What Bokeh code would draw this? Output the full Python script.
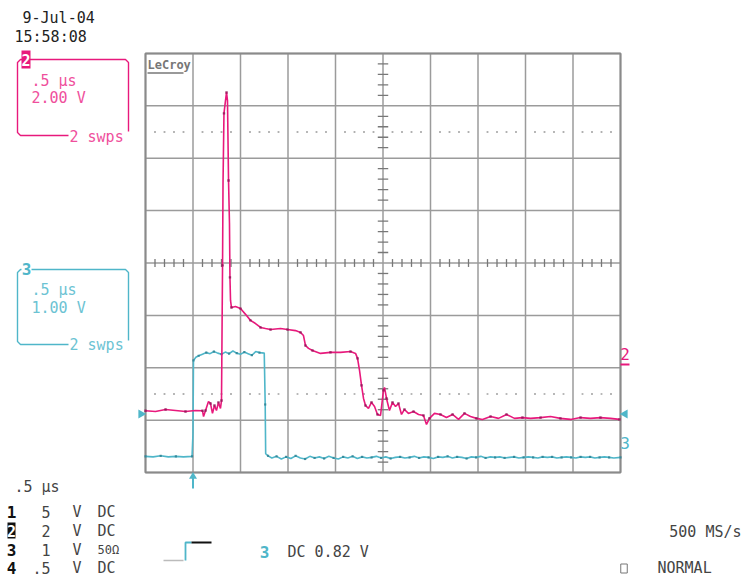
import math
from bokeh.plotting import figure
from bokeh.models import Range1d
from bokeh.embed import file_html
from bokeh.resources import INLINE
from bokeh.core.properties import value

# ---------------- data ----------------
TIME_PER_DIV_US = 0.5
CH2_V_PER_DIV = 2.0
CH2_OFFSET_DIV = -2.82
CH3_V_PER_DIV = 1.0
CH3_OFFSET_DIV = -3.70

ch2_t_us = [0.000, 0.105, 0.211, 0.316, 0.421, 0.526, 0.600, 0.611, 0.632, 0.663, 0.684,
            0.705, 0.726, 0.747, 0.768, 0.789, 0.800, 0.805, 0.811, 0.816, 0.826, 0.842,
            0.853, 0.863, 0.874, 0.884, 0.889, 0.895, 0.905, 0.947, 1.000, 1.053, 1.105,
            1.158, 1.211, 1.263, 1.316, 1.421, 1.495, 1.579, 1.632, 1.663, 1.684, 1.716,
            1.758, 1.842, 1.947, 2.053, 2.158, 2.211, 2.232, 2.253, 2.274, 2.295, 2.316,
            2.347, 2.379, 2.411, 2.442, 2.474, 2.505, 2.516, 2.537, 2.568, 2.600, 2.632,
            2.663, 2.695, 2.726, 2.768, 2.821, 2.874, 2.926, 2.958, 2.989, 3.042, 3.105,
            3.168, 3.232, 3.295, 3.358, 3.421, 3.484, 3.547, 3.632, 3.716, 3.800, 3.884,
            3.968, 4.053, 4.158, 4.263, 4.368, 4.474, 4.579, 4.684, 4.789, 4.895, 4.989]
ch2_v = [0.00, -0.03, 0.05, 0.01, -0.03, 0.01, 0.00, -0.22, 0.01, 0.35, 0.28,
         -0.10, 0.20, 0.01, 0.32, 0.09, 0.39, 2.69, 5.55, 8.68, 11.35, 11.84,
         12.15, 11.84, 8.79, 7.15, 5.09, 4.21, 3.94, 3.98, 3.90, 3.68, 3.45,
         3.33, 3.18, 3.14, 3.10, 3.14, 3.10, 3.06, 2.99, 2.87, 2.49, 2.38,
         2.30, 2.19, 2.23, 2.23, 2.26, 2.19, 2.00, 1.54, 0.97, 0.47, 0.20,
         0.09, 0.32, 0.16, -0.14, -0.18, 0.78, 0.89, 0.47, 0.01, 0.32, 0.16,
         0.28, -0.14, 0.05, -0.10, -0.03, -0.14, -0.18, -0.52, -0.29, -0.10, -0.14,
         -0.26, -0.14, -0.33, -0.10, -0.22, -0.29, -0.33, -0.22, -0.29, -0.14, -0.29,
         -0.26, -0.29, -0.26, -0.22, -0.29, -0.33, -0.26, -0.29, -0.26, -0.29, -0.33]

ch3_t_us = [0.00, 0.08, 0.16, 0.24, 0.32, 0.40, 0.49, 0.50, 0.505, 0.53, 0.56, 0.60,
            0.64, 0.68, 0.72, 0.76, 0.80, 0.84, 0.88, 0.92, 0.96, 1.00, 1.04, 1.08,
            1.12, 1.16, 1.20, 1.25, 1.26, 1.265, 1.29, 1.33, 1.38, 1.43, 1.48, 1.53,
            1.58, 1.63, 1.68, 1.73, 1.78, 1.83, 1.88, 1.93, 1.98, 2.03, 2.08, 2.13,
            2.18, 2.23, 2.28, 2.33, 2.38, 2.43, 2.48, 2.53, 2.58, 2.63, 2.68, 2.73,
            2.78, 2.83, 2.88, 2.93, 2.98, 3.03, 3.08, 3.13, 3.18, 3.23, 3.28, 3.33,
            3.38, 3.43, 3.48, 3.53, 3.58, 3.63, 3.68, 3.73, 3.78, 3.83, 3.88, 3.93,
            3.98, 4.03, 4.08, 4.13, 4.18, 4.23, 4.28, 4.33, 4.38, 4.43, 4.48, 4.53,
            4.58, 4.63, 4.68, 4.73, 4.78, 4.83, 4.88, 4.93, 5.00]
ch3_v = [0.01, 0.00, 0.02, 0.00, 0.01, 0.00, 0.01, 0.45, 1.84, 1.90, 1.93, 1.96,
         1.99, 1.97, 2.01, 1.98, 1.96, 2.00, 1.97, 2.02, 1.98, 1.96, 2.00, 1.97,
         1.94, 2.01, 1.99, 1.98, 1.00, 0.06, 0.02, -0.02, 0.01, -0.04, 0.00, -0.03,
         0.02, -0.02, -0.04, 0.01, -0.02, 0.00, -0.03, 0.01, -0.02, -0.04, 0.00, -0.02,
         0.01, -0.03, 0.00, -0.02, -0.01, 0.01, -0.02, 0.00, -0.03, -0.01, 0.00, -0.02,
         -0.01, 0.01, -0.02, 0.00, -0.01, -0.03, 0.00, -0.01, 0.01, -0.02, 0.00, -0.01,
         -0.03, 0.00, -0.01, 0.01, -0.02, 0.00, -0.01, 0.00, -0.02, -0.01, 0.00, -0.02,
         -0.01, 0.00, -0.01, -0.02, 0.00, -0.01, 0.00, -0.02, -0.01, 0.00, -0.01, -0.02,
         0.00, -0.01, 0.00, -0.02, -0.01, 0.00, -0.01, -0.02, -0.01]

trigger_t_us = 0.5
trigger_level_v = 0.82

h_divs = list(range(0, 11))
v_divs = list(range(-4, 5))

date_text = "9-Jul-04"
time_text = "15:58:08"
timebase_text = ".5 µs"
ch2_box = [".5 µs", "2.00 V", "2 swps"]
ch3_box = [".5 µs", "1.00 V", "2 swps"]
chan_ids = ["1", "2", "3", "4"]
chan_scale = ["5", "2", "1", ".5"]
chan_unit = ["V", "V", "V", "V"]
chan_coupling = ["DC", "DC", "50Ω", "DC"]
trig_text = "DC 0.82 V"
rate_text = "500 MS/s"
mode_text = "NORMAL"

# ---------------- layout helpers ----------------
W, H = 743, 576
PX0, PXDIV = 145.0, 47.5      # image px of grid left, px per division
PY0, PYDIV = 262.5, 52.4      # image px of grid centre, px per division


def X(px):
    return (px - PX0) / PXDIV


def Y(py):
    return (PY0 - py) / PYDIV


MAG = "#e8197c"
MAG_T = "#ef4f9c"
MAG_D = "#8e1456"
CYA = "#4fb6c9"
CYA_T = "#6cc3d3"
CYA_D = "#2d7f90"
GRID = "#9b9b9b"
FONT = value("DejaVu Sans Mono")

p = figure(width=W, height=H, output_backend="svg", toolbar_location=None,
           x_range=Range1d(X(0), X(W)), y_range=Range1d(Y(H), Y(0)),
           x_axis_location=None, y_axis_location=None, min_border=0,
           outline_line_color=None, background_fill_color="white",
           border_fill_color="white")
p.grid.visible = False


def T(px, py, s, color="#333333", size="15px", align="left", style="normal"):
    p.text(x=[X(px)], y=[Y(py)], text=[s], text_font=FONT, text_font_size=size,
           text_color=color, text_align=align, text_baseline="middle",
           text_font_style=style)


def L(pts, color, width=1.5):
    p.line([X(a) for a, _ in pts], [Y(b) for _, b in pts], line_color=color,
           line_width=width)


# ---------------- graticule ----------------
p.segment(x0=[float(d) for d in h_divs], y0=[-4.0] * len(h_divs),
          x1=[float(d) for d in h_divs], y1=[4.0] * len(h_divs),
          line_color=GRID, line_width=1.5)
p.segment(x0=[0.0] * len(v_divs), y0=[float(d) for d in v_divs],
          x1=[10.0] * len(v_divs), y1=[float(d) for d in v_divs],
          line_color=GRID, line_width=1.5)
p.rect(x=[5.0], y=[0.0], width=10.0, height=8.0, fill_color=None,
       line_color="#8a8a8a", line_width=2)

# centre-axis minor ticks
tx = [i * 0.2 for i in range(1, 50) if i % 5 != 0]
p.segment(x0=tx, y0=[-0.075] * len(tx), x1=tx, y1=[0.075] * len(tx),
          line_color="#777777", line_width=1.3)
ty = [-4 + i * 0.2 for i in range(1, 40) if i % 5 != 0]
p.segment(x0=[4.89] * len(ty), y0=ty, x1=[5.11] * len(ty), y1=ty,
          line_color="#777777", line_width=1.3)

# dotted lines at +/- 2.5 div
dx = [i * 0.2 for i in range(1, 50) if i % 5 != 0]
p.scatter(x=dx + dx, y=[2.5] * len(dx) + [-2.5] * len(dx), size=1.8,
          marker="square", fill_color="#b0b0b0", line_color=None)

# LeCroy logo
T(147, 64, "LeCroy", color="#777777", size="12px", style="bold")
L([(147, 72.5), (183, 72.5)], "#777777", 1.6)

# ---------------- traces ----------------
ch2_x = [t / TIME_PER_DIV_US for t in ch2_t_us]
ch2_y = [v / CH2_V_PER_DIV + CH2_OFFSET_DIV for v in ch2_v]
ch3_x = [t / TIME_PER_DIV_US for t in ch3_t_us]
ch3_y = [v / CH3_V_PER_DIV + CH3_OFFSET_DIV for v in ch3_v]
p.line(ch3_x, ch3_y, line_color=CYA, line_width=1.6)
p.scatter(ch3_x[::2], ch3_y[::2], size=2.2, marker="square", fill_color=CYA_D,
          line_color=None, fill_alpha=0.8)
p.line(ch2_x, ch2_y, line_color=MAG, line_width=1.6)
p.scatter(ch2_x[::2], ch2_y[::2], size=2.4, marker="square", fill_color=MAG_D,
          line_color=None, fill_alpha=0.8)

# trigger markers
trig_y = trigger_level_v / CH3_V_PER_DIV + CH3_OFFSET_DIV
p.scatter(x=[X(140.5)], y=[trig_y], marker="triangle", size=9, angle=-math.pi / 2,
          fill_color=CYA, line_color=None)
p.scatter(x=[X(624.5)], y=[trig_y], marker="triangle", size=9, angle=math.pi / 2,
          fill_color=CYA, line_color=None)
trig_x = trigger_t_us / TIME_PER_DIV_US
p.segment(x0=[trig_x], y0=[Y(476)], x1=[trig_x], y1=[Y(488)], line_color=CYA,
          line_width=2)
p.scatter(x=[trig_x], y=[Y(476)], marker="triangle", size=8, fill_color=CYA,
          line_color=None)

# right-side channel labels
T(624.5, 353, "2", color=MAG, size="16px", align="center")
L([(620, 364), (629, 364)], MAG, 2)
T(624.5, 442, "3", color=CYA, size="16px", align="center")

# ---------------- top-left info ----------------
T(22, 17, date_text, color="#222222")
T(14, 36, time_text, color="#222222")

# channel 2 box
L([(68, 135), (20, 135), (17, 132), (17, 62), (20, 59), (125, 59), (128, 62),
   (128, 131)], MAG, 1.4)
p.quad(left=[X(21)], right=[X(30)], top=[Y(50)], bottom=[Y(68)], fill_color=MAG,
       line_color=None)
T(25.5, 59.5, "2", color="white", size="15px", align="center", style="bold")
T(31, 80, ch2_box[0], color=MAG_T)
T(31, 97, ch2_box[1], color=MAG_T)
T(69, 136, ch2_box[2], color=MAG_T)

# channel 3 box
L([(68, 344), (20, 344), (17, 341), (17, 272), (20, 269), (125, 269), (128, 272),
   (128, 340)], CYA, 1.4)
p.quad(left=[X(21)], right=[X(31)], top=[Y(262)], bottom=[Y(276)],
       fill_color="white", line_color=None)
T(26, 268, "3", color=CYA, size="16px", align="center", style="bold")
T(31, 289, ch3_box[0], color=CYA_T)
T(31, 307, ch3_box[1], color=CYA_T)
T(69, 344, ch3_box[2], color=CYA_T)

# ---------------- bottom-left table ----------------
T(14, 486, timebase_text, color="#444444")
rows_y = [511, 530, 549, 567]
for i, ry in enumerate(rows_y):
    if chan_ids[i] == "2":
        p.quad(left=[X(7)], right=[X(15)], top=[Y(522)], bottom=[Y(538)],
               fill_color="#111111", line_color=None)
        T(11, ry, chan_ids[i], color="white", size="15px", align="center", style="bold")
    else:
        T(11, ry, chan_ids[i], color="#111111", size="16px", align="center", style="bold")
    T(50, ry, chan_scale[i], color="#444444", align="right")
    T(72, ry, chan_unit[i], color="#444444")
    if chan_coupling[i] == "50Ω":
        T(97, ry, chan_coupling[i], color="#444444", size="12px")
    else:
        T(97, ry, chan_coupling[i], color="#444444")

# trigger symbol
L([(163, 560), (183, 560)], "#bbbbbb", 1.6)
L([(185, 560), (185, 542), (191, 542)], CYA, 1.8)
L([(191, 542), (211, 542)], "#111111", 1.8)
T(264, 551, "3", color=CYA, size="16px", align="center", style="bold")
T(287, 551, trig_text, color="#444444")

# bottom-right
T(741, 531, rate_text, color="#444444", align="right")
p.rect(x=[X(623.5)], y=[Y(568)], width=6.5 / PXDIV, height=9.0 / PYDIV,
       fill_color=None, line_color="#777777", line_width=1)
T(657, 567, mode_text, color="#444444")

open("out.html", "w").write(file_html(p, INLINE))
